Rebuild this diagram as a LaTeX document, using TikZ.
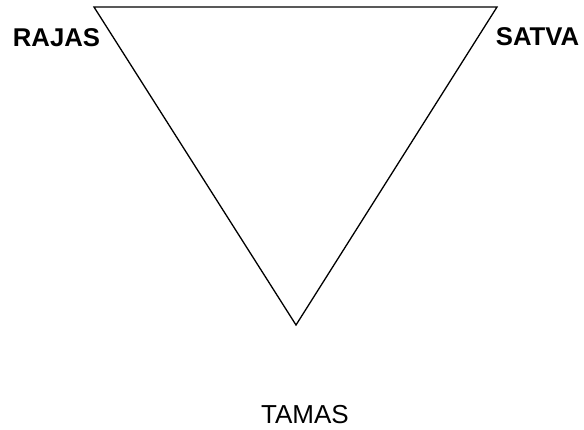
\documentclass[tikz,border=0pt]{standalone}
\usepackage{fontspec}
\setmainfont{Liberation Sans}
\begin{document}
\begin{tikzpicture}[x=1bp,y=-1bp,
  edge/.style={draw=black,line width=1.3bp,line join=miter},
  gunabold/.style={inner sep=0pt,anchor=base,font=\fontsize{25.7bp}{30bp}\selectfont\bfseries},
  gunareg/.style={inner sep=0pt,anchor=base,font=\fontsize{26bp}{30bp}\selectfont}]
\useasboundingbox (0,0) rectangle (584,429);
\coordinate (tl) at (94,7);
\coordinate (tr) at (497,7);
\coordinate (bt) at (296,325);
\draw[edge] (tl) -- (tr) -- (bt) -- cycle;
\node[gunabold] (rajas) at (56.5,46.5) {RAJAS};
\node[gunabold] (satva) at (537.5,45.5) {SATVA};
\node[gunareg] (tamas) at (305,423) {TAMAS};
\end{tikzpicture}
\end{document}
